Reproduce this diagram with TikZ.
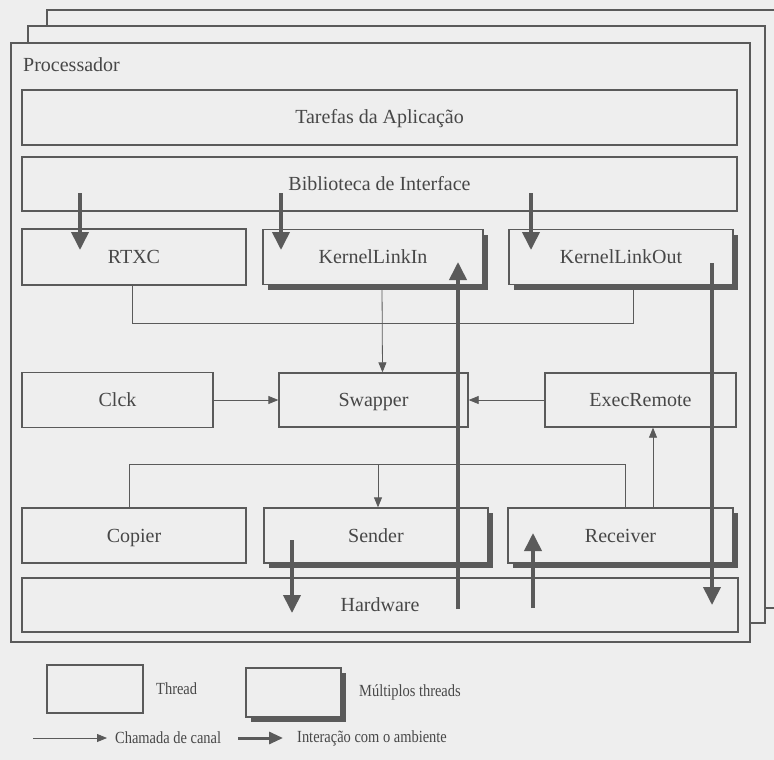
\documentclass[tikz,border=0pt]{standalone}
\usepackage{fontspec}
\setmainfont{Liberation Serif}
\newfontfamily\legfont[FakeStretch=0.85]{Liberation Serif}
\usepackage{xcolor}
\usetikzlibrary{arrows.meta,shadows}
\definecolor{papel}{HTML}{EEEEEE}
\definecolor{traco}{HTML}{5A5A5A}
\definecolor{letra}{HTML}{474747}
\begin{document}
\begin{tikzpicture}[x=1pt,y=-1pt,
thread/.style={draw=traco,line width=1.3pt,fill=papel,inner sep=0pt,text=letra,text height=15pt,text depth=2pt,font=\fontsize{20}{24}\selectfont},
multi/.style={thread,drop shadow={shadow xshift=5pt,shadow yshift=-5pt,fill=traco,opacity=1}},
frame/.style={draw=traco,line width=1.3pt,fill=papel},
call/.style={draw=traco,line width=0.8pt},
callarrow/.style={call,-{Triangle[length=10pt,width=8pt]}},
env/.style={draw=traco,line width=3.8pt,-{Triangle[length=18pt,width=17pt]}},
legend/.style={text=letra,font=\legfont\fontsize{17}{20}\selectfont,inner sep=0pt}]
\useasboundingbox[fill=papel](0,0)rectangle(774,760);
\draw[frame](47,10)rectangle(777,608);
\draw[frame](28,26)rectangle(765,623);
\draw[frame](11,43)rectangle(750,642);
\node[anchor=base west,text=letra,font=\fontsize{20}{24}\selectfont,inner sep=0pt](proc)at(23,71){Processador};
\node[thread,minimum width=715,minimum height=55](tarefas)at(379.5,117.5){Tarefas da Aplicação};
\node[thread,minimum width=715,minimum height=54](bib)at(379.5,184){Biblioteca de Interface};
\node[thread,minimum width=224,minimum height=56](rtxc)at(134,257){RTXC};
\node[multi,minimum width=220,minimum height=55](kin)at(373,257){KernelLinkIn};
\node[multi,minimum width=224,minimum height=55](kout)at(621,257){KernelLinkOut};
\node[thread,minimum width=191,minimum height=55](clck)at(117.5,400){Clck};
\node[thread,minimum width=189,minimum height=54](swap)at(373.5,400){Swapper};
\node[thread,minimum width=191,minimum height=54](exec)at(640.5,400){ExecRemote};
\node[thread,minimum width=224,minimum height=55](copier)at(134,535.5){Copier};
\node[multi,minimum width=224,minimum height=55](sender)at(376,535.5){Sender};
\node[multi,minimum width=225,minimum height=55](receiver)at(620.5,535.5){Receiver};
\node[thread,minimum width=716,minimum height=54](hw)at(380,605){Hardware};
\draw[call]([xshift=-2]rtxc.south)--++(0,38)-|([xshift=12]kout.south);
\draw[callarrow]([xshift=9]kin.south)--([xshift=9]swap.north);
\draw[callarrow](clck.east)--(swap.west);
\draw[callarrow](exec.west)--(swap.east);
\draw[call]([xshift=-5]copier.north)--++(0,-43)-|([xshift=4.5]receiver.north);
\draw[callarrow]([xshift=2]sender.north)++(0,-43)--([xshift=2]sender.north);
\draw[callarrow]([xshift=32.5]receiver.north)--([xshift=32.5]receiver.north|-exec.south);
\coordinate(b1)at(80,193);\coordinate(r1)at(80,250);
\coordinate(b2)at(281,193);\coordinate(k1)at(281,250);
\coordinate(b3)at(531,193);\coordinate(k2)at(531,250);
\coordinate(h1)at(458,609);\coordinate(k3)at(458,262);
\coordinate(k4)at(712,263);\coordinate(h2)at(712,605);
\coordinate(s1)at(292,540);\coordinate(h3)at(292,613);
\coordinate(h4)at(533,608);\coordinate(r2)at(533,533);
\draw[env](b1)--(r1);
\draw[env](b2)--(k1);
\draw[env](b3)--(k2);
\draw[env](h1)--(k3);
\draw[env](k4)--(h2);
\draw[env](s1)--(h3);
\draw[env](h4)--(r2);
\node[thread,minimum width=96,minimum height=48](lthread)at(95,689){};
\node[legend,anchor=west](tthread)at(156,689){Thread};
\node[multi,minimum width=95,minimum height=49](lmulti)at(293.5,692.5){};
\node[legend,anchor=west](tmulti)at(359,692){Múltiplos threads};
\node[legend,anchor=west](chamada)at(115,738){Chamada de canal};
\node[legend,anchor=west](intera)at(297,738){Interação com o ambiente};
\draw[callarrow]([xshift=-82]chamada.west)--([xshift=-8]chamada.west);
\draw[env,line width=3pt,-{Triangle[length=14pt,width=12pt]}]([xshift=-59]intera.west)--([xshift=-14]intera.west);
\end{tikzpicture}
\end{document}
